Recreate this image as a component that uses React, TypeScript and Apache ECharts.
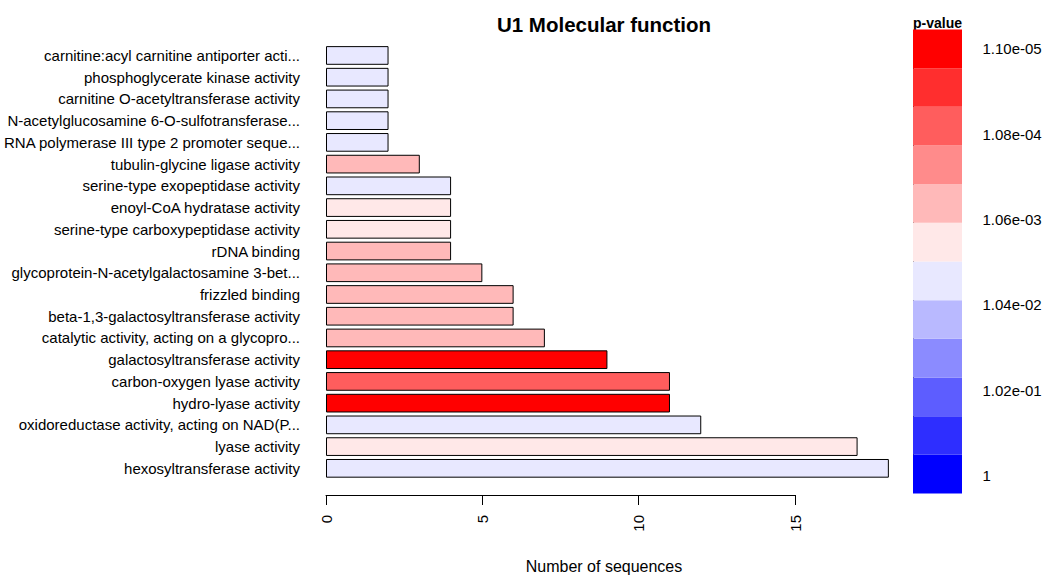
import React, { useEffect, useRef } from "react";
import * as echarts from "echarts";

// Categories, top to bottom
const categories = [
  "carnitine:acyl carnitine antiporter acti...",
  "phosphoglycerate kinase activity",
  "carnitine O-acetyltransferase activity",
  "N-acetylglucosamine 6-O-sulfotransferase...",
  "RNA polymerase III type 2 promoter seque...",
  "tubulin-glycine ligase activity",
  "serine-type exopeptidase activity",
  "enoyl-CoA hydratase activity",
  "serine-type carboxypeptidase activity",
  "rDNA binding",
  "glycoprotein-N-acetylgalactosamine 3-bet...",
  "frizzled binding",
  "beta-1,3-galactosyltransferase activity",
  "catalytic activity, acting on a glycopro...",
  "galactosyltransferase activity",
  "carbon-oxygen lyase activity",
  "hydro-lyase activity",
  "oxidoreductase activity, acting on NAD(P...",
  "lyase activity",
  "hexosyltransferase activity",
];

// Number of sequences per category
const counts = [2, 2, 2, 2, 2, 3, 4, 4, 4, 4, 5, 6, 6, 7, 9, 11, 11, 12, 17, 18];

// p-value colour bin per category (0 = most significant / red, 11 = blue)
const pBins = [6, 6, 6, 6, 6, 4, 6, 5, 5, 4, 4, 4, 4, 4, 0, 2, 0, 6, 5, 6];

// Colour scale, red (small p) to blue (p = 1)
const palette = [
  "#FF0000", "#FF2E2E", "#FF5D5D", "#FF8B8B", "#FFB9B9", "#FFE8E8",
  "#E8E8FF", "#B9B9FF", "#8B8BFF", "#5D5DFF", "#2E2EFF", "#0000FF",
];

// Colour bar tick labels, bottom to top
const legendTicks = ["1", "1.02e-01", "1.04e-02", "1.06e-03", "1.08e-04", "1.10e-05"];

const xTicks = { min: 0, max: 15, interval: 5 };

const FONT = "'Liberation Sans', Arial, sans-serif";

export default function App() {
  const ref = useRef<HTMLDivElement>(null);

  useEffect(() => {
    if (!ref.current) return;
    const chart = echarts.init(ref.current, undefined, { renderer: "svg" });

    const unit = 31.27;
    const legendBins = palette.slice().reverse(); // bottom (blue) to top (red)

    const option: any = {
      animation: false,
      backgroundColor: "#ffffff",
      textStyle: { fontFamily: FONT },
      grid: [
        { left: 326, top: 44.6, width: 18 * unit, height: 434.6, containLabel: false },
        { left: 326, top: 494, width: xTicks.max * unit, height: 1, containLabel: false },
        { left: 913, top: 29.5, width: 49, height: 464, containLabel: false },
        { left: 913, top: 48.7, width: 49.5, height: 427, containLabel: false },
      ],
      xAxis: [
        { gridIndex: 0, type: "value", min: 0, max: 18, show: false },
        {
          gridIndex: 1,
          type: "value",
          min: xTicks.min,
          max: xTicks.max,
          interval: xTicks.interval,
          position: "bottom",
          axisLine: { show: true, lineStyle: { color: "#000", width: 1 } },
          axisTick: { show: true, length: 10, lineStyle: { color: "#000" } },
          axisLabel: { rotate: 90, margin: 20, fontSize: 15, color: "#000", fontFamily: FONT },
          splitLine: { show: false },
        },
        { gridIndex: 2, type: "value", min: 0, max: 1, show: false },
        { gridIndex: 3, type: "value", min: 0, max: 1, show: false },
      ],
      yAxis: [
        {
          gridIndex: 0,
          type: "category",
          data: categories,
          inverse: true,
          axisLine: { show: false },
          axisTick: { show: false },
          axisLabel: { fontSize: 15, color: "#000", margin: 26, fontFamily: FONT },
        },
        { gridIndex: 1, type: "value", show: false },
        {
          gridIndex: 2,
          type: "category",
          data: legendBins.map((_, i) => String(i)),
          show: false,
        },
        {
          gridIndex: 3,
          type: "value",
          min: 0,
          max: legendTicks.length - 1,
          interval: 1,
          position: "right",
          axisLine: { show: true, lineStyle: { color: "#000", width: 1 } },
          axisTick: { show: true, length: 12, inside: false, lineStyle: { color: "#000" } },
          axisLabel: {
            margin: 20,
            fontSize: 15,
            color: "#000",
            fontFamily: FONT,
            formatter: (v: number) => legendTicks[Math.round(v)] ?? "",
          },
          splitLine: { show: false },
        },
      ],
      series: [
        {
          type: "bar",
          xAxisIndex: 0,
          yAxisIndex: 0,
          barCategoryGap: "14%",
          data: counts.map((v, i) => ({
            value: v,
            itemStyle: { color: palette[pBins[i]], borderColor: "#000", borderWidth: 1 },
          })),
        },
        {
          type: "bar",
          xAxisIndex: 2,
          yAxisIndex: 2,
          barCategoryGap: "0%",
          data: legendBins.map((c) => ({ value: 1, itemStyle: { color: c } })),
        },
        {
          type: "line",
          xAxisIndex: 3,
          yAxisIndex: 3,
          data: [],
        },
      ],
      graphic: [
        {
          type: "text",
          x: 604,
          y: 24,
          style: {
            text: "U1 Molecular function",
            fontSize: 20.5,
            fontWeight: "bold",
            fontFamily: FONT,
            fill: "#000",
            textAlign: "center",
            textVerticalAlign: "middle",
          },
        },
        {
          type: "text",
          x: 604,
          y: 566,
          style: {
            text: "Number of sequences",
            fontSize: 16,
            fontFamily: FONT,
            fill: "#000",
            textAlign: "center",
            textVerticalAlign: "middle",
          },
        },
        {
          type: "text",
          x: 937.5,
          y: 23,
          style: {
            text: "p-value",
            fontSize: 14,
            fontWeight: "bold",
            fontFamily: FONT,
            fill: "#000",
            textAlign: "center",
            textVerticalAlign: "middle",
          },
        },
      ],
    };

    chart.setOption(option);
    return () => chart.dispose();
  }, []);

  return (
    <div
      ref={ref}
      style={{ position: "fixed", left: 0, top: 0, width: 1046, height: 576 }}
    />
  );
}
